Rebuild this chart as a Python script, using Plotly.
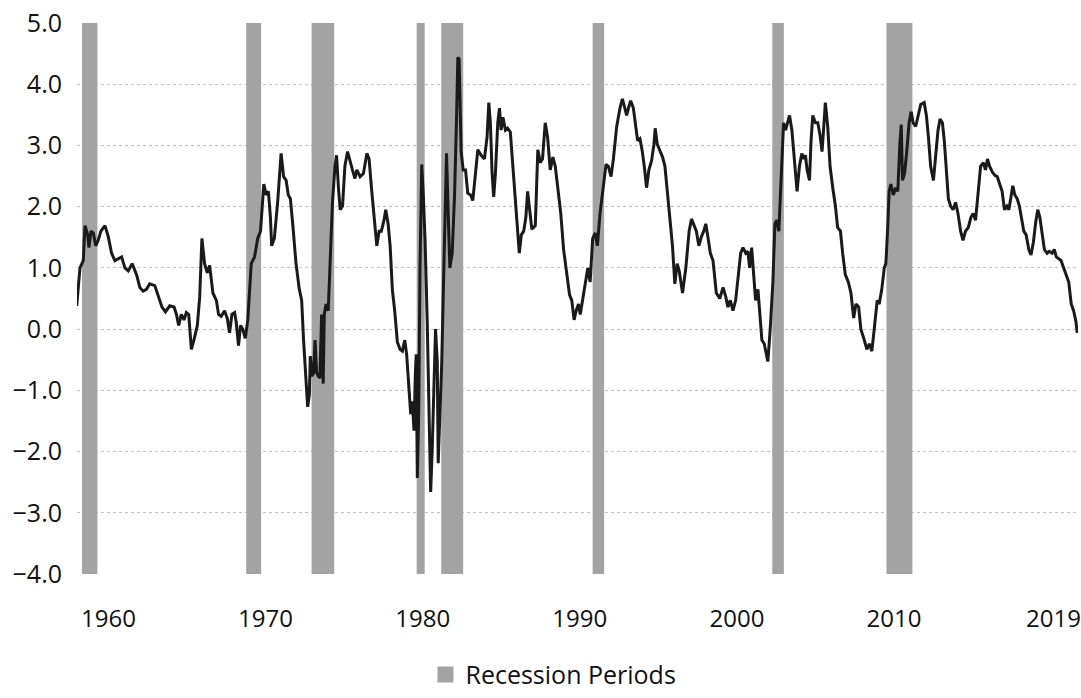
import plotly.graph_objects as go

# ---- data (decimal year on the chart's axis, spread in %) ----
years = [
    1957.98, 1958.19, 1958.40, 1958.51, 1958.68, 1958.76, 1958.89, 1959.04, 1959.19, 1959.35,
    1959.52, 1959.78, 1959.99, 1960.20, 1960.41, 1960.62, 1960.84, 1961.05, 1961.26, 1961.51,
    1961.79, 1962.00, 1962.21, 1962.42, 1962.63, 1962.95, 1963.16, 1963.41, 1963.63, 1963.90,
    1964.18, 1964.33, 1964.47, 1964.64, 1964.81, 1964.96, 1965.11, 1965.28, 1965.44, 1965.66,
    1965.81, 1965.95, 1966.12, 1966.29, 1966.44, 1966.65, 1966.87, 1967.01, 1967.18, 1967.39,
    1967.56, 1967.71, 1967.86, 1968.03, 1968.13, 1968.28, 1968.41, 1968.55, 1968.71, 1968.87,
    1969.09, 1969.30, 1969.50, 1969.68, 1969.89, 1970.04, 1970.18, 1970.31, 1970.39, 1970.56,
    1970.77, 1970.99, 1971.15, 1971.31, 1971.45, 1971.58, 1971.73, 1971.94, 1972.15, 1972.30,
    1972.42, 1972.58, 1972.68, 1972.79, 1972.85, 1972.96, 1973.06, 1973.15, 1973.25, 1973.36,
    1973.46, 1973.57, 1973.67, 1973.74, 1973.85, 1973.99, 1974.12, 1974.26, 1974.42, 1974.52,
    1974.64, 1974.75, 1974.90, 1975.05, 1975.22, 1975.39, 1975.53, 1975.69, 1975.81, 1976.02,
    1976.23, 1976.45, 1976.59, 1976.74, 1976.91, 1977.08, 1977.23, 1977.37, 1977.54, 1977.65,
    1977.80, 1977.93, 1978.07, 1978.22, 1978.39, 1978.56, 1978.71, 1978.86, 1978.98, 1979.13,
    1979.24, 1979.34, 1979.45, 1979.53, 1979.59, 1979.66, 1979.75, 1979.83, 1979.94, 1980.04,
    1980.15, 1980.29, 1980.40, 1980.51, 1980.61, 1980.72, 1980.82, 1980.93, 1980.99, 1981.10,
    1981.21, 1981.35, 1981.52, 1981.62, 1981.73, 1981.88, 1982.03, 1982.16, 1982.24, 1982.32,
    1982.45, 1982.58, 1982.73, 1982.87, 1983.05, 1983.19, 1983.36, 1983.51, 1983.72, 1983.93,
    1984.10, 1984.21, 1984.31, 1984.42, 1984.52, 1984.63, 1984.78, 1984.89, 1984.99, 1985.11,
    1985.27, 1985.41, 1985.58, 1985.75, 1985.90, 1986.00, 1986.15, 1986.28, 1986.43, 1986.57,
    1986.68, 1986.81, 1986.95, 1987.17, 1987.33, 1987.49, 1987.63, 1987.80, 1987.95, 1988.12,
    1988.29, 1988.44, 1988.65, 1988.79, 1988.97, 1989.17, 1989.35, 1989.49, 1989.64, 1989.77,
    1989.92, 1990.03, 1990.13, 1990.34, 1990.51, 1990.66, 1990.82, 1990.98, 1991.12, 1991.29,
    1991.50, 1991.67, 1991.82, 1991.99, 1992.14, 1992.35, 1992.56, 1992.71, 1992.84, 1992.98,
    1993.13, 1993.24, 1993.41, 1993.55, 1993.68, 1993.83, 1993.98, 1994.12, 1994.25, 1994.40,
    1994.57, 1994.72, 1994.80, 1994.93, 1995.10, 1995.27, 1995.42, 1995.58, 1995.74, 1995.90,
    1996.05, 1996.20, 1996.33, 1996.54, 1996.75, 1996.96, 1997.11, 1997.26, 1997.42, 1997.58,
    1997.74, 1997.89, 1998.02, 1998.17, 1998.31, 1998.48, 1998.69, 1998.91, 1999.12, 1999.29,
    1999.43, 1999.58, 1999.75, 1999.92, 2000.07, 2000.24, 2000.39, 2000.56, 2000.70, 2000.81,
    2000.94, 2001.07, 2001.19, 2001.34, 2001.45, 2001.59, 2001.74, 2001.86, 2001.97, 2002.12,
    2002.29, 2002.42, 2002.54, 2002.67, 2002.82, 2002.97, 2003.10, 2003.24, 2003.35, 2003.50,
    2003.67, 2003.83, 2003.98, 2004.13, 2004.26, 2004.36, 2004.47, 2004.62, 2004.72, 2004.83,
    2005.00, 2005.15, 2005.29, 2005.42, 2005.53, 2005.63, 2005.78, 2005.93, 2006.10, 2006.27,
    2006.41, 2006.59, 2006.73, 2006.90, 2007.09, 2007.26, 2007.43, 2007.58, 2007.75, 2007.89,
    2008.11, 2008.27, 2008.43, 2008.59, 2008.74, 2008.93, 2009.06, 2009.22, 2009.38, 2009.48,
    2009.59, 2009.69, 2009.80, 2009.95, 2010.11, 2010.24, 2010.37, 2010.46, 2010.54, 2010.67,
    2010.81, 2010.96, 2011.09, 2011.22, 2011.38, 2011.55, 2011.70, 2011.92, 2012.06, 2012.19,
    2012.33, 2012.51, 2012.65, 2012.80, 2012.93, 2013.08, 2013.20, 2013.33, 2013.46, 2013.60,
    2013.76, 2013.92, 2014.07, 2014.24, 2014.39, 2014.55, 2014.73, 2014.90, 2015.04, 2015.19,
    2015.36, 2015.51, 2015.68, 2015.82, 2015.95, 2016.08, 2016.25, 2016.42, 2016.57, 2016.71,
    2016.88, 2017.03, 2017.18, 2017.31, 2017.44, 2017.56, 2017.69, 2017.84, 2017.98, 2018.11,
    2018.26, 2018.41, 2018.58, 2018.72, 2018.87, 2019.02, 2019.15, 2019.28, 2019.42, 2019.57,
    2019.74, 2019.88, 2020.06, 2020.20, 2020.33, 2020.48, 2020.63, 2020.80, 2020.96, 2021.12,
    2021.28, 2021.43, 2021.58, 2021.66,
]
spread = [
    0.38, 1.00, 1.12, 1.69, 1.54, 1.33, 1.60, 1.57, 1.36, 1.45,
    1.60, 1.69, 1.51, 1.24, 1.12, 1.15, 1.18, 1.00, 0.95, 1.07,
    0.89, 0.68, 0.62, 0.65, 0.74, 0.71, 0.56, 0.36, 0.28, 0.38,
    0.36, 0.24, 0.06, 0.24, 0.15, 0.27, 0.24, -0.33, -0.18, 0.06,
    0.53, 1.48, 1.07, 0.92, 1.04, 0.59, 0.47, 0.24, 0.21, 0.30,
    0.18, -0.06, 0.24, 0.27, 0.12, -0.27, 0.06, 0.00, -0.15, 0.15,
    1.07, 1.18, 1.48, 1.60, 2.37, 2.19, 2.25, 1.83, 1.36, 1.48,
    2.07, 2.87, 2.49, 2.43, 2.19, 2.13, 1.72, 1.07, 0.65, 0.47,
    -0.18, -0.95, -1.27, -1.07, -0.44, -0.77, -0.71, -0.18, -0.71, -0.77,
    -0.80, 0.24, -0.89, 0.24, 0.41, 0.30, 1.30, 2.07, 2.66, 2.84,
    2.31, 1.95, 2.01, 2.66, 2.90, 2.72, 2.60, 2.46, 2.60, 2.49,
    2.54, 2.87, 2.78, 2.31, 1.83, 1.36, 1.60, 1.60, 1.78, 1.95,
    1.72, 1.36, 0.65, 0.30, -0.21, -0.33, -0.36, -0.18, -0.41, -1.07,
    -1.39, -1.18, -1.66, -0.77, -0.41, -2.43, -1.36, 1.00, 2.69, 2.19,
    1.48, 0.12, -1.36, -2.66, -1.95, -0.77, 0.00, -0.53, -2.19, -1.36,
    -0.59, 1.00, 2.87, 1.95, 1.00, 1.24, 2.19, 3.49, 4.44, 4.41,
    2.90, 2.60, 2.60, 2.22, 2.19, 2.10, 2.60, 2.93, 2.84, 2.78,
    3.14, 3.70, 3.37, 2.54, 2.16, 2.54, 3.37, 3.61, 3.25, 3.46,
    3.25, 3.28, 3.22, 2.60, 2.13, 1.66, 1.24, 1.54, 1.60, 1.83,
    2.25, 1.95, 1.63, 1.69, 2.93, 2.72, 2.78, 3.37, 3.14, 2.60,
    2.81, 2.66, 2.25, 1.89, 1.30, 0.89, 0.56, 0.47, 0.15, 0.30,
    0.41, 0.24, 0.41, 0.71, 1.00, 0.77, 1.48, 1.57, 1.36, 1.89,
    2.37, 2.69, 2.66, 2.49, 2.78, 3.31, 3.61, 3.76, 3.64, 3.49,
    3.64, 3.73, 3.61, 3.37, 3.08, 3.11, 2.90, 2.63, 2.31, 2.60,
    2.75, 3.02, 3.28, 3.02, 2.90, 2.81, 2.66, 2.19, 1.72, 1.36,
    0.74, 1.07, 0.95, 0.59, 1.00, 1.60, 1.80, 1.69, 1.60, 1.36,
    1.51, 1.60, 1.72, 1.48, 1.24, 1.12, 0.59, 0.50, 0.68, 0.53,
    0.36, 0.47, 0.30, 0.47, 0.89, 1.24, 1.33, 1.24, 1.27, 1.00,
    1.33, 0.89, 0.47, 0.65, 0.30, -0.18, -0.24, -0.41, -0.53, 0.00,
    0.77, 1.72, 1.78, 1.60, 2.49, 3.37, 3.25, 3.37, 3.49, 3.25,
    2.72, 2.25, 2.66, 2.87, 2.78, 2.84, 2.60, 2.43, 3.08, 3.49,
    3.37, 3.37, 3.17, 2.90, 3.31, 3.70, 3.31, 2.66, 2.31, 2.01,
    1.66, 1.60, 1.24, 0.89, 0.77, 0.59, 0.18, 0.41, 0.36, 0.00,
    -0.18, -0.33, -0.24, -0.36, 0.00, 0.47, 0.41, 0.65, 1.00, 1.07,
    1.60, 2.25, 2.37, 2.19, 2.31, 2.25, 3.02, 3.34, 2.43, 2.54,
    2.90, 3.37, 3.55, 3.37, 3.31, 3.49, 3.67, 3.70, 3.49, 3.14,
    2.66, 2.43, 2.78, 3.25, 3.43, 3.37, 3.08, 2.66, 2.13, 2.01,
    1.95, 2.07, 1.89, 1.60, 1.45, 1.60, 1.66, 1.83, 1.89, 1.78,
    2.31, 2.66, 2.72, 2.60, 2.78, 2.66, 2.57, 2.51, 2.49, 2.37,
    2.25, 1.95, 2.01, 1.95, 2.19, 2.34, 2.19, 2.13, 2.01, 1.83,
    1.60, 1.54, 1.30, 1.21, 1.42, 1.75, 1.95, 1.83, 1.60, 1.30,
    1.24, 1.27, 1.24, 1.30, 1.18, 1.15, 1.12, 1.00, 0.89, 0.77,
    0.41, 0.30, 0.12, -0.06,
]

recession_start = [1958.32, 1968.77, 1972.93, 1979.62, 1981.18, 1990.82, 2002.25, 2009.52]
recession_end = [1959.30, 1969.72, 1974.37, 1980.13, 1982.58, 1991.55, 2002.99, 2011.17]

tick_years = [1960, 1970, 1980, 1990, 2000, 2010, 2020.15]
tick_labels = ["1960", "1970", "1980", "1990", "2000", "2010", "2019"]

y_min, y_max = -4.0, 5.0

# ---- figure ----
FONT = "Open Sans"
TXT = "#111111"
BAND = "#a3a3a3"

fig = go.Figure()

fig.add_trace(go.Bar(
    x=[(s + e) / 2 for s, e in zip(recession_start, recession_end)],
    y=[y_max - y_min] * len(recession_start),
    base=[y_min] * len(recession_start),
    width=[e - s for s, e in zip(recession_start, recession_end)],
    marker=dict(color=BAND, line=dict(width=0)),
    showlegend=False,
    hoverinfo="skip",
))

fig.add_trace(go.Scatter(
    x=[None], y=[None], mode="markers",
    marker=dict(symbol="square", size=16, color=BAND),
    name="Recession Periods",
    showlegend=True,
))

fig.add_trace(go.Scatter(
    x=years, y=spread, mode="lines",
    line=dict(color="#1a1a1a", width=3),
    showlegend=False,
))

fig.update_layout(
    width=1081, height=698, autosize=False,
    margin=dict(l=77, r=0, t=23, b=117),
    paper_bgcolor="white", plot_bgcolor="white",
    font=dict(family=FONT, color=TXT),
    barmode="overlay",
    legend=dict(
        orientation="h", x=0.476, xanchor="center", y=-0.183, yanchor="middle",
        font=dict(family=FONT, size=25, color=TXT),
        itemsizing="trace", bgcolor="rgba(0,0,0,0)",
    ),
    xaxis=dict(
        range=[1958.0, 2021.71], showgrid=False, zeroline=False, showline=False,
        tickmode="array", tickvals=tick_years, ticktext=tick_labels,
        tickfont=dict(family=FONT, size=24, color=TXT),
        ticks="", ticklabelstandoff=28, ticklabeloverflow="allow",
    ),
    yaxis=dict(
        range=[y_min, y_max], dtick=1, tick0=0, tickformat=".1f",
        showgrid=True, gridcolor="#c2c2c2", gridwidth=1, griddash="dot",
        zeroline=False, showline=False, ticks="",
        tickfont=dict(family=FONT, size=25, color=TXT),
        ticklabelstandoff=14, ticklabeloverflow="allow",
    ),
)

fig.write_html(
    "out.html",
    config={"displayModeBar": False},
    post_script="document.body.style.margin='0px';document.body.style.overflow='hidden';",
)
